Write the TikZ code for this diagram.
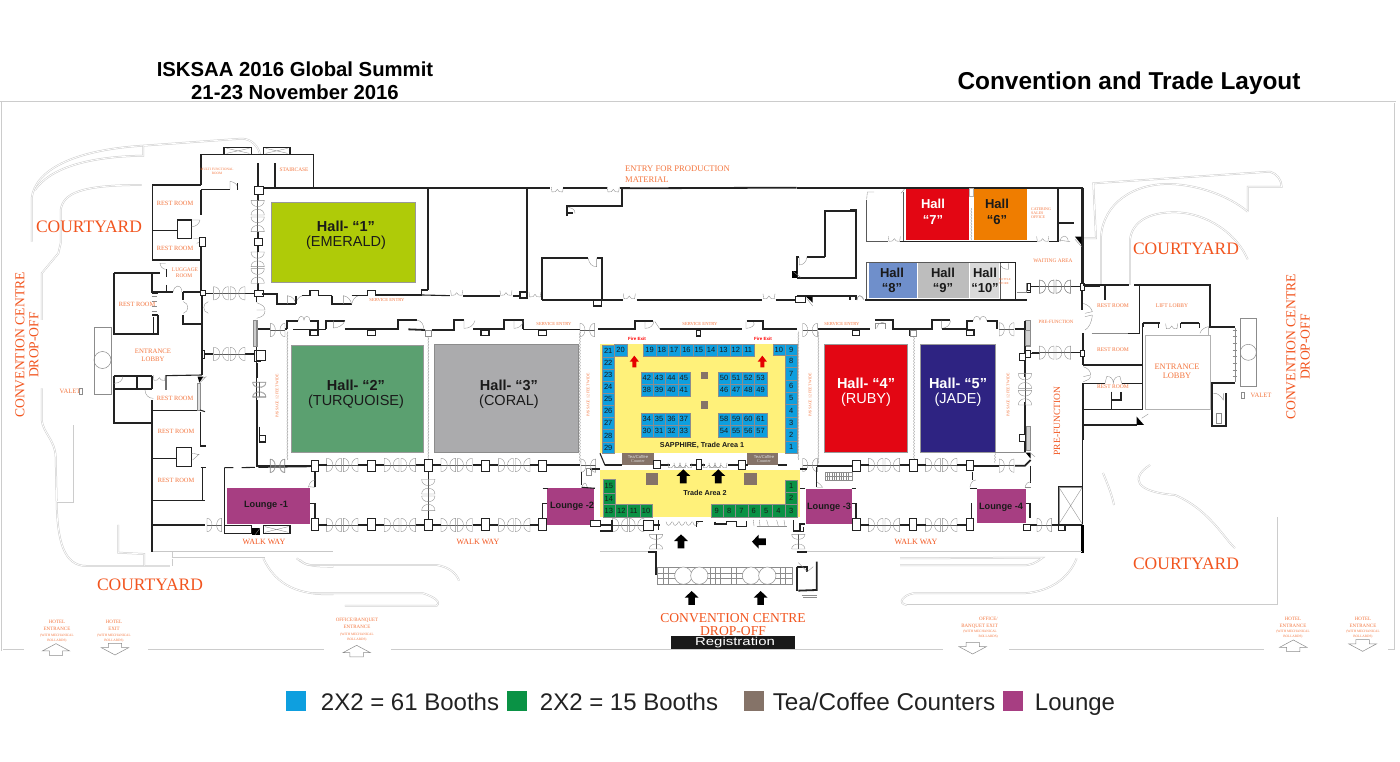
\documentclass[tikz,border=0pt]{standalone}
\usepackage{fontspec}
\setmainfont{Liberation Serif}
\newfontfamily\ar{Liberation Sans}
\usetikzlibrary{decorations.pathmorphing}
\definecolor{orB}{HTML}{F2551F}
\definecolor{orS}{HTML}{F4763F}
\definecolor{emer}{HTML}{AFCB08}
\definecolor{turq}{HTML}{5BA070}
\definecolor{cora}{HTML}{ABABAD}
\definecolor{ruby}{HTML}{E30613}
\definecolor{jade}{HTML}{2E2382}
\definecolor{hsix}{HTML}{EF7D00}
\definecolor{heig}{HTML}{6F8FCB}
\definecolor{hnin}{HTML}{BDBDBD}
\definecolor{hten}{HTML}{D9D9D9}
\definecolor{loun}{HTML}{A73E82}
\definecolor{yell}{HTML}{FFF17A}
\definecolor{bluB}{HTML}{0E9FDF}
\definecolor{greB}{HTML}{0A9245}
\definecolor{brow}{HTML}{857368}
\definecolor{ink}{HTML}{222222}
\definecolor{dkT}{HTML}{1A1A1A}
\tikzset{
  zs/.style={scale=.3333},
  wall/.style={draw=ink,line width=1.1pt,line join=miter},
  twall/.style={draw=ink,line width=1.8pt},
  bwall/.style={draw=black,line width=3pt},
  grayw/.style={draw=black!22,line width=1.4pt},
  thinw/.style={draw=black!65,line width=.5pt},
  door/.style={draw=black!45,line width=.35pt},
  road/.style={draw=black!20,line width=.5pt,double=white,double distance=.8pt},
  pillar/.style={draw=ink,line width=.9pt,fill=white},
  zz/.style={draw=black!40,line width=.4pt,decorate,decoration={snake,amplitude=.5pt,segment length=3pt}},
  lab/.style={inner sep=0pt,align=center,text=orS},
  booth/.style={fill=bluB,draw=black!45,line width=.25pt},
  gbooth/.style={fill=greB,draw=black!45,line width=.25pt},
  num/.style={inner sep=0pt,text=dkT,font=\ar\fontsize{7.5}{7.5}\selectfont},
  pics/dbl/.style={code={\begin{scope}[zs]
    \draw[thinw] (-47,0)--(47,0);
    \foreach \s in {-1,1}{
      \draw[door] (\s*47,-20)--(\s*47,20) .. controls (\s*22,20) and (\s*22,-20) .. (\s*47,-20);
      \draw[door] (\s*3,-20)--(\s*3,20) .. controls (\s*26,20) and (\s*26,-20) .. (\s*3,-20);
    }\end{scope}}},
  pics/bow/.style={code={\begin{scope}[zs]
    \draw[thinw] (-22,0)--(22,0);
    \foreach \s in {-1,1}{
      \draw[door] (\s*22,-20)--(\s*22,20) .. controls (\s*2,20) and (\s*2,-20) .. (\s*22,-20);
    }\end{scope}}},
  pics/uu/.style={code={\begin{scope}[zs]
    \draw[door] (-18,-9)--(-16,6) .. controls (-8,8) and (-2,4) .. (0,-2) .. controls (2,4) and (8,8) .. (16,6) -- (18,-9);
    \end{scope}}},
  pics/qd/.style={code={\begin{scope}[zs]
    \draw[door] (0,0)--(0,-24) .. controls (16,-22) and (24,-12) .. (24,0);
    \end{scope}}},
  pics/harrow/.style={code={\begin{scope}[zs]
    \draw[door,line width=.5pt,fill=white] (0,-17)--(41,5)--(20,5)--(20,18)--(-20,18)--(-20,5)--(-41,5)--cycle;
    \end{scope}}},
  pics/barrow/.style={code={\begin{scope}[zs]
    \fill[black] (0,-22)--(21,-2)--(10,-2)--(10,20)--(-10,20)--(-10,-2)--(-21,-2)--cycle;
    \end{scope}}},
  pics/rarrow/.style={code={\begin{scope}[zs]
    \fill[red!90!black] (0,-18)--(14,0)--(6,0)--(6,17)--(-6,17)--(-6,0)--(-14,0)--cycle;
    \end{scope}}},
}
\newcounter{lb}
\newcommand\Lb[5][]{\stepcounter{lb}\node[lab,#1,font=\fontsize{#4}{#4}\selectfont] (lb\arabic{lb}) at (#2,#3) {#5};}
\newcommand\Hl[5]{\Lb[text=#4]{#1}{#2}{#3}{\ar\bfseries #5}}
\newcommand\Hr[5]{\Lb[text=#4]{#1}{#2}{#3}{\ar #5}}
\newcommand\Dbl[2]{\pic at (#1,#2) {dbl};}
\newcommand\VDbl[2]{\pic[rotate=90] at (#1,#2) {dbl};}
\newcommand\Bow[2]{\pic at (#1,#2) {bow};}
\newcommand\VBow[2]{\pic[rotate=90] at (#1,#2) {bow};}
\newcommand\UU[2]{\pic at (#1,#2) {uu};}
\newcommand\Pil[4]{\draw[pillar] (#1,#2) rectangle (#3,#4);}
\newcommand\Bo[6]{\draw[#1] (#2,#3) rectangle ++(#4,#5) node[midway,num] (b#1#6) {#6};}
\begin{document}
\begin{tikzpicture}[x=1pt,y=-1pt]
\useasboundingbox (0,0) rectangle (1400,762);
\fill[white] (0,0) rectangle (1400,762);

% ---- frame
\draw[road] (0,102)--(1395,102)--(1395,650)--(1388,650);
\draw[road] (2,102)--(2,650)--(24,650);
\draw[road] (148,650)--(324,650);
\draw[road] (391,650)--(943,650);
\draw[road] (1009,650)--(1264,650);

% ---- hall fills
\begin{scope}[shift={(230,150)},scale=.3333]
 \draw[fill=emer,draw=black!40,line width=.8pt] (124,158) rectangle (557,398);
\end{scope}
\begin{scope}[shift={(230,300)},scale=.3333]
 \draw[fill=turq,draw=black!40,line width=.6pt] (185,135) rectangle (580,458);
 \draw[fill=cora,draw=black!45,line width=.6pt] (613,133) rectangle (1045,458);
 \fill[loun] (950,565) rectangle (1093,674);
 \fill[loun] (-10,565) rectangle (240,672);
\end{scope}
\begin{scope}[shift={(790,300)},scale=.3333]
 \draw[fill=ruby,draw=black!40,line width=.6pt] (103,134) rectangle (353,456);
 \draw[fill=jade,draw=black!40,line width=.6pt] (390,134) rectangle (616,456);
 \fill[loun] (47,567) rectangle (185,672);
 \fill[loun] (562,567) rectangle (707,670);
\end{scope}
\begin{scope}[shift={(850,150)},scale=.3333]
 \fill[ruby] (168,115) rectangle (358,270);
 \fill[hsix] (372,115) rectangle (530,270);
 \draw[thinw,line width=.8pt] (50,338) rectangle (450,450);
 \fill[heig] (57,340) rectangle (200,445);
 \fill[hnin] (203,340) rectangle (358,445);
 \fill[hten] (360,340) rectangle (448,445);
\end{scope}

% ---- roads (left)
\begin{scope}[shift={(0,130)},scale=.3333]
 \draw[road] (95,335)--(95,205) .. controls (105,120) and (220,60) .. (430,47) -- (725,26) .. controls (755,26) and (775,50) .. (780,72);
 \draw[road] (105,180) .. controls (150,115) and (260,80) .. (430,77)--(430,47);
 \draw[road] (125,570)--(125,430)--(175,370)--(182,340)--(182,240) .. controls (190,190) and (240,165) .. (425,165);
\end{scope}
\begin{scope}[shift={(0,360)},scale=.3333]
 \draw[road] (125,85)--(125,180) .. controls (130,220) and (165,240) .. (167,290) -- (170,425) .. controls (172,540) and (190,618) .. (260,618) -- (510,618);
 \draw[road] (170,425)--(218,425)--(218,195);
 \draw[road] (355,495)--(355,578)--(433,582)--(433,618);
 \draw[road] (515,575)--(515,618);
 \draw[road] (515,595)--(795,595);
 \draw[road] (790,595) .. controls (830,680) and (900,705) .. (1000,703);
 \draw[road] (890,595) .. controls (915,615) and (930,620) .. (1000,620);
 \draw[grayw] (455,575)--(1000,575);
\end{scope}
\begin{scope}[shift={(250,560)},scale=.3333]
 \draw[road] (190,100)--(520,100) .. controls (550,110) and (575,125) .. (560,137) -- (285,137);
 \draw[road] (150,0) .. controls (165,15) and (175,15) .. (190,15) -- (560,15) .. controls (595,20) and (620,40) .. (627,62);
\end{scope}
% ---- roads (right)
\begin{scope}[shift={(900,540)},scale=.3333]
 \draw[road] (0,55)--(428,53) .. controls (405,70) and (395,75) .. (370,76) -- (0,76);
 \draw[road] (530,55) .. controls (505,120) and (440,160) .. (360,160) -- (40,160) .. controls (10,165) and (-10,190) .. (20,195);
 \draw[road] (20,195)--(1135,195)--(1135,-70);
\end{scope}
\begin{scope}[shift={(1020,170)},scale=.3333]
 \draw[road] (190,205)--(228,205)--(220,40)--(750,5) .. controls (770,10) and (785,30) .. (785,50)--(683,50)--(683,125);
 \draw[road] (243,345)--(243,200) .. controls (250,100) and (340,40) .. (450,42) .. controls (540,45) and (630,80) .. (683,125);
 \draw[road] (330,345)--(330,210) .. controls (335,160) and (380,125) .. (470,127) .. controls (560,130) and (650,190) .. (683,268);
\end{scope}
\draw[road] (1150,465) .. controls (1130,478) and (1135,492) .. (1175,495) .. controls (1210,510) and (1225,540) .. (1235,548);
\draw[road] (1103,473) .. controls (1108,485) and (1112,495) .. (1114,505);

% ---- left wing walls
\begin{scope}[shift={(0,130)},scale=.3333]
 \draw[wall] (603,165)--(603,73)--(940,73)--(940,172);
 \draw[wall,fill=white] (672,52) rectangle (755,73);
 \draw[wall,fill=white] (790,52) rectangle (870,73);
 \draw[door] (680,55)--(748,70) (680,70)--(748,55) (797,55)--(863,70) (797,70)--(863,55);
 \draw[wall] (603,178)--(690,178);
 \pic at (690,178) {qd};
 \draw[wall] (712,160)--(712,180);
 \draw[twall] (773,100)--(773,170);
 \draw[twall] (825,100)--(825,172);
 \draw[twall] (790,190)--(790,175)--(1000,175);
 \draw[twall] (773,192)--(773,212) (773,305)--(773,325) (773,347)--(773,365) (773,460)--(773,480);
 \pic[rotate=90] at (773,258) {dbl};
 \pic[rotate=90] at (773,413) {dbl};
 \Pil{762}{170}{790}{192}
 \Pil{762}{325}{787}{347}
 \Pil{762}{480}{790}{498}
 \draw[wall] (603,165)--(457,165)--(457,390)--(603,390)--(603,340);
 \draw[wall] (603,180)--(603,255);
 \draw[wall] (457,302)--(533,302);
 \draw[wall] (533,270) rectangle (575,325);
 \draw[door] (575,270)--(600,270) .. controls (598,280) and (590,290) .. (575,290);
 \draw[door] (580,325)--(605,325) .. controls (603,335) and (598,340) .. (590,340);
 \Pil{598}{323}{615}{348}
 \draw[wall] (603,390)--(603,482);
 \draw[wall] (500,418)--(500,440) (500,465)--(500,485);
 \draw[twall] (343,428)--(480,428);
 \draw[door] (480,400)--(497,400) (480,400) .. controls (480,410) and (490,418) .. (497,418);
 \draw[twall] (343,428)--(343,612)--(475,612)--(475,555);
 \draw[twall] (457,428)--(457,485)--(520,485);
 \draw[door] (520,485) .. controls (522,465) and (545,460) .. (545,485);
 \draw[twall] (548,485)--(605,485);
 \draw[twall] (550,485)--(550,510) (550,555)--(550,582)--(605,582);
 \draw[twall] (606,480)--(606,720);
 \draw[wall] (457,490)--(475,490) (457,555)--(475,555) (460,560)--(460,610);
 \draw[door] (455,500)--(472,500) (455,515)--(472,515) (455,530)--(472,530) (455,545)--(472,545);
 \draw[door] (550,515) .. controls (568,520) and (568,545) .. (550,550);
 \draw[door] (625,515) .. controls (607,520) and (607,545) .. (625,550);
 \Pil{600}{480}{615}{495}
 \draw[wall] (615,490)--(640,490) (735,490)--(762,490);
 \Dbl{688}{490}
 \draw[wall] (606,672)--(640,672) (735,672)--(762,672);
 \Dbl{688}{672}
 \Pil{606}{662}{614}{684}
 \draw[wall] (770,498)--(770,515);
 \draw[door] (770,518) .. controls (788,525) and (795,530) .. (795,540)--(770,540);
 \draw[door] (770,565) .. controls (788,560) and (795,555) .. (795,543);
 \draw[door,fill=black!25] (760,572) rectangle (772,650);
 \draw[wall] (770,650)--(770,665);
 \Pil{762}{662}{780}{695}
 \Pil{775}{670}{795}{690}
\end{scope}
\begin{scope}[shift={(0,360)},scale=.3333]
 \draw[twall] (606,0)--(606,45);
 \draw[wall] (606,45)--(498,47)--(498,90);
 \fill[black] (593,50)--(610,50)--(598,68)--cycle;
 \draw[door] (605,55)--(620,50)(598,70)--(618,50);
 \draw[twall] (342,47)--(455,47);
 \draw[twall] (342,47)--(342,190)--(455,190);
 \draw[twall] (342,88)--(455,88);
 \draw[twall] (410,47)--(410,88);
 \draw[twall] (455,47)--(455,88);
 \draw[twall] (455,120)--(455,575);
 \draw[door] (342,70) .. controls (360,70) and (368,60) .. (368,50);
 \draw[door] (435,90) .. controls (436,105) and (445,115) .. (460,115);
 \pic at (478,55) {uu};
 \draw[wall] (455,152)--(590,152);
 \draw[door,fill=black!12] (592,70) rectangle (602,150);
 \draw[wall] (602,155)--(602,258)--(617,258);
 \draw[wall] (600,150)--(615,155);
 \draw[wall] (455,296)--(530,296);
 \draw[wall] (530,263) rectangle (575,320);
 \draw[door] (575,280) .. controls (585,280) and (595,285) .. (597,283)--(578,300);
 \draw[wall] (607,322)--(607,420) (602,322)--(617,322);
 \draw[wall] (455,422)--(615,422);
 \draw[wall] (455,495)--(615,495);
 \Bow{643}{495}
 \draw[wall] (673,325)--(673,520);
 \draw[wall] (673,323)--(700,323) (725,323)--(765,322);
 \draw[wall] (673,497)--(755,497)--(755,520)--(673,520);
 \draw[wall] (790,497) rectangle (870,520);
 \draw[door] (795,500)--(865,517)(795,517)--(865,500);
 \fill[black] (757,505)--(780,505)--(780,525)--(757,525)--cycle;
 \draw[door] (765,525)--(780,505);
 \draw[wall] (775,322)--(930,320);
 \draw[wall] (770,-2)--(770,322);
 \Pil{778}{225}{795}{247}
 \pic[rotate=90] at (778,90) {bow};
 \Bow{832}{318}
\end{scope}

% ---- upper corridor
\begin{scope}[shift={(230,150)},scale=.3333]
 \draw[twall] (100,115)--(960,115);
 \UU{982}{120}
 \draw[twall] (1000,115)--(1130,115);
 \UU{1150}{120}
 \draw[twall] (1170,115)--(1200,115);
 \draw[twall] (595,115)--(595,420);
 \draw[twall] (892,115)--(892,430);
 \draw[twall] (85,132)--(85,150) (85,248)--(85,265) (85,288)--(85,305) (85,402)--(85,420);
 \draw[twall] (97,433)--(140,433)--(140,462)--(197,462);
 \draw[door] (172,462)--(172,437) .. controls (190,440) and (195,450) .. (197,462);
 \draw[door] (197,462) .. controls (200,450) and (205,440) .. (218,437);
 \draw[twall] (197,462)--(197,438);
 \draw[wall] (215,437)--(240,437)--(240,422)--(265,422)--(265,437)--(305,437);
 \draw[twall] (305,437)--(305,463)--(365,463);
 \draw[door] (340,462)--(340,437) .. controls (355,440) and (362,450) .. (365,462);
 \draw[door] (365,462) .. controls (368,450) and (375,440) .. (385,437);
 \draw[wall] (365,437)--(412,437)--(412,422)--(437,422)--(437,435)--(575,435)--(575,420)--(595,420);
 \draw[wall] (575,435)--(660,437);
 \UU{680}{430}
 \draw[twall] (700,438)--(810,438);
 \UU{828}{430}
 \draw[twall] (848,438)--(870,438)--(870,425)--(892,425)--(892,445)--(870,445)--(870,438);
 \UU{915}{435}
 \draw[twall] (937,450)--(1090,450);
 \draw[twall] (937,450)--(937,325)--(1075,325);
 \draw[door] (1075,325) .. controls (1077,340) and (1085,350) .. (1100,350)--(1100,325);
 \draw[twall] (1100,325)--(1115,325)--(1115,450);
 \draw[wall] (1090,450) rectangle (1115,468);
 \draw[twall] (1115,450)--(1175,450);
 \draw[twall] (1175,115)--(1175,168)--(1010,168)--(1010,198);
 \draw[twall] (1010,190)--(1030,190);
 \draw[door] (1015,172) .. controls (1030,175) and (1035,180) .. (1035,190);
\end{scope}
\begin{scope}[shift={(510,150)},scale=.3333]
 \draw[twall] (335,115)--(860,113);
 \draw[twall] (860,113)--(1110,113);
 \UU{777}{440}
 \UU{358}{440}
 \draw[twall] (277,450)--(338,450);
 \draw[twall] (380,450)--(755,450);
 \draw[twall] (797,450)--(858,450);
 \draw[twall] (860,438)--(1038,438)--(1038,450);
 \Pil{857}{440}{885}{458}
 \fill[black] (888,440)--(908,440)--(908,458)--cycle;
 \draw[door] (890,445)--(908,468);
 \draw[twall] (945,322)--(945,183)--(1038,183)--(1038,383)--(860,383);
 \draw[twall] (890,322)--(945,322);
 \draw[twall] (860,383)--(860,322)--(868,322);
 \draw[door] (868,322)--(868,345) .. controls (880,345) and (890,335) .. (890,322);
 \fill[black] (845,362)--(860,362)--(860,384)--(845,384)--cycle;
 \draw[door] (850,365)--(872,382);
 \draw[twall] (1065,450)--(1110,450);
 \draw[door] (1040,450) .. controls (1042,435) and (1055,430) .. (1062,450);
\end{scope}
\begin{scope}[shift={(850,150)},scale=.3333]
 \draw[thinw,line width=.8pt] (50,150)--(50,275)--(115,275);
 \draw[thinw,line width=1pt] (160,125)--(160,275);
 \draw[door] (50,148)--(52,126)--(72,126);
 \draw[door] (153,130)--(165,115);
 \UU{133}{268}
 \draw[wall,line width=.9pt] (150,275)--(560,275);
 \UU{578}{268}
 \draw[wall,line width=.9pt] (596,275)--(625,275);
 \draw[twall] (0,113)--(695,113)--(695,480);
 \draw[twall] (625,113)--(625,275);
 \draw[twall] (625,218)--(672,218);
 \draw[door] (630,275) .. controls (632,255) and (652,250) .. (655,275);
 \draw[door] (625,270)--(660,275);
 \fill[black] (675,260)--(695,260)--(695,285)--cycle;
 \draw[door] (675,268)--(695,290);
 \draw[draw=black!30,line width=.8pt,fill=white] (358,115) rectangle (370,140);
 \draw[zz] (364,175)--(364,270);
 \draw[twall] (50,450)--(530,450);
 \draw[wall] (450,338)--(497,338)--(497,450);
 \draw[door] (450,340) .. controls (452,355) and (465,358) .. (475,358)--(475,340);
 \Pil{530}{400}{542}{428}
 \draw[wall] (542,410)--(570,410) (660,410)--(690,410) (702,408)--(750,408);
 \Dbl{615}{410}
 \Pil{690}{400}{702}{420}
 \draw[door] (500,428)--(528,428)--(528,400);
 \draw[twall] (0,180)--(18,180)--(18,383)--(0,383);
 \draw[twall] (18,438)--(0,438)--(0,450);
 \draw[door] (22,450) .. controls (22,438) and (30,430) .. (40,448);
\end{scope}

% ---- main halls row
\begin{scope}[shift={(230,300)},scale=.3333]
 \draw[twall] (85,88)--(120,88) (165,88)--(170,88);
 \draw[wall] (77,60)--(77,140) ;
 \draw[door,fill=black!20] (70,62) rectangle (80,138);
 \Bow{143}{90}
 \draw[twall] (170,88)--(170,62)--(205,62) (240,62)--(265,62)--(265,88);
 \draw[door] (205,62) .. controls (205,45) and (222,45) .. (222,60) .. controls (222,45) and (240,45) .. (240,62);
 \draw[wall] (190,88)--(288,88);
 \draw[twall] (288,88)--(288,62)--(345,62);
 \draw[door] (310,62)--(310,84) .. controls (325,84) and (340,75) .. (345,62);
 \draw[twall] (345,88)--(505,88)--(505,60)--(560,60);
 \draw[twall] (535,88)--(585,90);
 \draw[door] (560,60) .. controls (575,62) and (582,75) .. (582,90);
 \draw[twall] (605,90)--(672,90)--(672,60)--(702,60);
 \draw[door] (702,60)--(702,85) .. controls (718,85) and (730,78) .. (735,62);
 \draw[twall] (730,88)--(822,88)--(822,60)--(880,60)--(880,88);
 \draw[door] (852,62)--(852,85) .. controls (865,85) and (878,78) .. (880,62);
 \draw[wall] (880,88)--(1050,88);
 \foreach \a in {240,412,753,925} {\draw[wall,fill=white] (\a,90) rectangle ++(24,16);}
 \Bow{1072}{90}
 \draw[zz] (172,95)--(172,480);
 \draw[zz] (595,95)--(595,480);
 \draw[zz] (1050,95)--(1050,490);
 \draw[door,fill=white] (585,90) rectangle (605,110);
 \draw[twall] (80,300)--(80,497)--(120,497);
 \draw[wall] (88,380)--(88,405);
 \Pil{88}{405}{105}{425}
 \Pil{78}{150}{105}{180}
 \pic[rotate=90] at (88,268) {bow};
 \draw[twall] (80,190)--(80,235);
 \Bow{143}{497}
 \draw[twall] (165,497)--(243,497);
 \Pil{243}{480}{265}{513}
 \foreach \c in {337,510,680,853} {\Dbl{\c}{495}\Dbl{\c}{675}}
 \foreach \a in {385,557,728,900} {\draw[twall] (\a,495)--++(28,0); \draw[wall] (\a,675)--++(28,0);}
 \foreach \a in {265,436,607,778} {\draw[twall] (\a,495)--++(26,0); \draw[wall] (\a,675)--++(26,0);}
 \foreach \a in {412,753} {\Pil{\a}{480}{\a+24}{514} \Pil{\a}{655}{\a+24}{692}}
 \Pil{583}{478}{607}{515}
 \Pil{583}{658}{607}{692}
 \Pil{925}{480}{950}{515}
 \draw[twall] (950,495)--(1050,495);
 \Bow{1075}{497}
 \draw[twall] (255,513)--(255,560);
 \draw[door] (235,562) .. controls (238,545) and (250,540) .. (255,540);
 \draw[door] (235,560)--(255,562);
 \draw[wall] (240,610)--(255,610)--(255,655);
 \Pil{243}{655}{265}{692}
 \draw[wall] (595,515)--(595,540) (595,632)--(595,658);
 \VDbl{595}{585}
 \draw[wall] (938,565)--(955,565);
 \draw[wall] (938,610)--(938,655) (938,610)--(950,610);
 \Pil{925}{655}{950}{692}
 \draw[wall] (1055,515)--(1055,555);
 \draw[door] (1055,562) .. controls (1062,545) and (1068,545) .. (1072,562);
 \draw[wall] (1055,562)--(1095,565);
\end{scope}
\begin{scope}[shift={(790,300)},scale=.3333]
 \draw[twall] (85,88)--(240,88);
 \draw[door] (255,88)--(255,70)--(285,70)--(285,88);
 \draw[door] (260,85) .. controls (262,72) and (270,68) .. (283,66);
 \draw[twall] (255,60)--(310,60)--(310,88)--(425,88)--(425,60)--(480,60);
 \draw[door] (455,62)--(455,85) .. controls (470,85) and (480,75) .. (482,62);
 \draw[twall] (455,88)--(530,88);
 \draw[twall] (530,88)--(530,62)--(550,62) (590,62)--(620,62)--(620,88);
 \draw[door] (550,62) .. controls (550,45) and (570,45) .. (570,60) .. controls (570,45) and (590,45) .. (590,62);
 \Bow{650}{88}
 \draw[twall] (675,88)--(705,88);
 \foreach \a in {187,358,530} {\draw[wall,fill=white] (\a,90) rectangle ++(22,16);}
 \Bow{60}{90}
 \Bow{60}{495}
 \draw[zz] (25,95)--(25,480);
 \draw[zz] (85,95)--(85,490);
 \draw[zz] (372,95)--(372,490);
 \draw[zz] (615,460)--(615,490);
 \draw[door,fill=white] (360,90) rectangle (380,110);
 \draw[door,fill=black!18] (707,62) rectangle (722,138);
 \draw[twall] (705,62)--(705,230) (705,305)--(705,460);
 \Pil{688}{160}{705}{182}
 \Pil{705}{152}{722}{172}
 \draw[wall] (722,160)--(750,160);
 \VDbl{705}{268}
 \Pil{688}{403}{705}{425}
 \draw[door,fill=black!18] (710,380) rectangle (722,452);
 \fill[black] (707,458)--(722,458)--(722,476)--cycle;
 \draw[door] (720,458)--(735,470);
 \draw[door] (615,458)--(707,458);
 \draw[twall] (80,497)--(187,497);
 \Pil{187}{480}{210}{514}
 \draw[twall] (550,497)--(627,497);
 \Bow{650}{497}
 \draw[twall] (675,497)--(705,497)--(722,480);
 \draw[wall] (722,497)--(722,550);
 \draw[door] (705,562) .. controls (708,550) and (715,545) .. (722,545);
 \draw[door] (705,562)--(722,562);
 \foreach \c in {282,454} {\Dbl{\c}{495}\Dbl{\c}{675}}
 \foreach \a in {210,382} {\draw[twall] (\a,495)--++(26,0); \draw[wall] (\a,675)--++(26,0);}
 \foreach \a in {330,502} {\draw[twall] (\a,495)--++(28,0); \draw[wall] (\a,675)--++(28,0);}
 \Pil{358}{478}{382}{515}
 \Pil{358}{655}{380}{692}
 \Pil{528}{480}{550}{510}
 \Pil{528}{655}{550}{692}
 \draw[door] (105,517) rectangle (187,540);
 \foreach \a in {112,119,...,180} {\draw[door] (\a,517)--(\a,540);}
 \draw[door] (105,528)--(187,528);
 \draw[wall] (80,500)--(80,560);
 \draw[door] (80,545) .. controls (85,550) and (95,555) .. (98,562) -- (80,562);
 \draw[wall] (185,565)--(198,565);
 \draw[wall] (185,610)--(198,610)--(198,655);
 \draw[wall] (10,692)--(30,692)--(30,672)--(45,672);
 \draw[wall] (45,565)--(30,565);
 \Pil{187}{655}{210}{692}
 \draw[wall] (540,565)--(562,565);
 \draw[wall] (545,610)--(545,655);
 \draw[door] (540,562) .. controls (541,550) and (548,540) .. (558,540);
 \draw[wall] (548,515)--(548,540);
 \draw[wall] (707,610)--(720,610)--(720,655);
 \Pil{700}{672}{722}{692}
 \draw[wall] (722,675)--(740,675) (787,675)--(805,675);
 \Bow{763}{675}
 \draw[door,line width=.5pt] (807,562) rectangle (877,672);
 \draw[door] (807,562)--(877,672) (807,672)--(877,562);
 \draw[wall] (805,560)--(877,560) (805,560)--(805,675);
 \draw[twall] (805,675)--(877,675);
 \draw[wall] (805,675) rectangle (825,692);
 \draw[wall] (878,250)--(878,672);
 \draw[bwall] (877,675)--(877,758);
 \draw[twall] (880,375)--(960,375);
 \draw[wall] (880,328)--(960,328);
 \draw[grayw] (50,755)--(877,755);
\end{scope}

% ---- right wing
\begin{scope}[shift={(1020,170)},scale=.3333]
 \draw[twall] (190,53)--(190,345) (190,490)--(190,585);
 \Dbl{105}{350}
 \Dbl{105}{548}
 \draw[wall] (35,350)--(58,350) (152,350)--(180,350) (35,548)--(58,548) (152,548)--(180,548);
 \Pil{22}{340}{32}{360}
 \Pil{180}{340}{192}{360}
 \Pil{180}{540}{192}{558}
 \draw[door,fill=black!18] (16,480) rectangle (30,525);
 \draw[twall] (190,345)--(328,345);
 \draw[twall] (342,345)--(570,345)--(570,470)--(645,470);
 \draw[wall] (255,345)--(255,390);
 \draw[wall] (358,345)--(358,490)--(325,490);
 \draw[door] (215,490)--(325,490);
 \draw[door] (190,400) .. controls (205,405) and (215,415) .. (217,425)--(195,430) (217,435)--(195,440) (217,435) .. controls (215,460) and (205,475) .. (195,480);
 \draw[twall] (368,460)--(420,460);
 \draw[twall] (368,470)--(368,460);
 \draw[twall] (482,460)--(538,460);
 \draw[wall] (415,460)--(415,475) (482,460)--(482,475) (538,460)--(538,475);
 \UU{455}{470}
 \draw[door] (540,490) .. controls (543,478) and (555,472) .. (565,470)--(565,495);
 \draw[wall] (368,470)--(368,720);
 \draw[wall] (190,585)--(368,585);
 \draw[wall] (190,640)--(255,640) (305,640)--(368,640);
 \draw[door] (255,640)--(260,620) .. controls (270,618) and (280,625) .. (280,640) .. controls (280,625) and (290,618) .. (300,620)--(305,640);
 \draw[wall] (190,718)--(368,718);
 \draw[wall] (275,665)--(275,718);
 \draw[wall] (275,690)--(303,690)--(303,665);
 \draw[twall] (190,640)--(190,810);
 \draw[twall] (190,765)--(350,765);
 \fill[black] (350,740)--(372,765)--(350,765)--cycle;
 \draw[door] (365,745)--(385,732);
 \draw[door] (190,590) .. controls (205,595) and (212,605) .. (212,615)--(190,620) (190,635) .. controls (205,630) and (212,625) .. (212,620);
 \draw[twall] (575,770)--(575,640)--(645,640);
 \draw[twall] (575,768)--(618,768)--(618,670);
 \draw[door] (580,670) .. controls (590,668) and (600,675) .. (610,690) -- (610,670);
 \draw[door] (590,730) rectangle (605,760);
 \draw[draw=black!30,line width=.6pt] (375,497) rectangle (570,718);
 \draw[door,line width=.5pt] (660,445) rectangle (710,650);
 \draw[door,line width=.5pt] (685,547) circle (24);
 \foreach \a in {480,500,520,540,560,580,600,620} {\draw[door] (638,\a)--(652,\a);}
 \draw[door,line width=.8pt] (645,475)--(645,635);
\end{scope}

% ---- left pier
\draw[door,line width=.5pt] (94,327) rectangle (111,394);
\draw[door,line width=.5pt] (102.5,360) circle (8.5);

% ---- Sapphire / Trade area
\begin{scope}[shift={(590,320)},scale=.3333]
 \fill[yell] (30,72) rectangle (622,400);
 \fill[yell] (30,450) rectangle (630,592);
 \foreach \n/\y/\h in {21/75/35,22/110/37,23/147/36,24/183/37,25/220/36,26/256/36,27/292/36,28/328/37,29/365/35}
   {\Bo{booth}{37}{\y}{35}{\h}{\n}}
 \Bo{booth}{73}{72}{37}{35}{20}
 \foreach \n [count=\i from 0] in {19,18,17,16,15,14,13,12,11}
   {\Bo{booth}{160+\i*37}{72}{37}{35}{\n}}
 \Bo{booth}{548}{72}{37}{33}{10}
 \foreach \n/\y/\h in {9/72/33,8/105/37,7/142/38,6/180/37,5/217/36,4/253/37,3/290/35,2/325/37,1/362/36}
   {\Bo{booth}{585}{\y}{37}{\h}{\n}}
 \foreach \n [count=\i from 0] in {42,43,44,45} {\Bo{booth}{152+\i*37}{155}{37}{36}{\n}}
 \foreach \n [count=\i from 0] in {38,39,40,41} {\Bo{booth}{152+\i*37}{191}{37}{36}{\n}}
 \foreach \n [count=\i from 0] in {34,35,36,37} {\Bo{booth}{152+\i*37}{279}{37}{36}{\n}}
 \foreach \n [count=\i from 0] in {30,31,32,33} {\Bo{booth}{152+\i*37}{315}{37}{36}{\n}}
 \foreach \n [count=\i from 0] in {50,51,52,53} {\Bo{booth}{384+\i*36.5}{155}{36.5}{36}{\n}}
 \foreach \n [count=\i from 0] in {46,47,48,49} {\Bo{booth}{384+\i*36.5}{191}{36.5}{36}{\n}}
 \foreach \n [count=\i from 0] in {58,59,60,61} {\Bo{booth}{384+\i*36.5}{279}{36.5}{36}{\n}}
 \foreach \n [count=\i from 0] in {54,55,56,57} {\Bo{booth}{384+\i*36.5}{315}{36.5}{36}{\n}}
 \fill[brow] (332,155) rectangle (355,178);
 \fill[brow] (332,243) rectangle (355,266);
 \fill[brow] (97,400) rectangle (191,436);
 \fill[brow] (470,400) rectangle (565,436);
 \fill[brow] (167,458) rectangle (205,495);
 \fill[brow] (462,458) rectangle (500,495);
 \pic at (133,125) {rarrow};
 \pic at (517,125) {rarrow};
 \Bo{gbooth}{38}{478}{37}{40}{15}
 \Bo{gbooth}{38}{518}{37}{35}{14}
 \foreach \n [count=\i from 0] in {13,12,11,10} {\Bo{gbooth}{38+\i*37.2}{553}{37.2}{37}{\n}}
 \foreach \n [count=\i from 0] in {9,8,7,6,5,4} {\Bo{gbooth}{362+\i*37}{553}{37}{37}{\n}}
 \Bo{gbooth}{585}{553}{37}{37}{3}
 \Bo{gbooth}{585}{480}{37}{37}{1}
 \Bo{gbooth}{585}{517}{37}{36}{2}
 \pic at (280,470) {barrow};
 \pic at (385,470) {barrow};
 % walls round the area
 \draw[twall] (25,28)--(135,28)--(135,2)--(190,2);
 \draw[door] (165,5)--(165,25) .. controls (180,25) and (190,18) .. (192,3);
 \draw[twall] (210,28)--(455,28);
 \draw[door] (468,5)--(468,25) .. controls (480,25) and (500,18) .. (490,3);
 \draw[twall] (470,2)--(520,2)--(520,28)--(620,28);
 \draw[wall,fill=white] (320,30) rectangle (332,48);
 \draw[door] (195,5)--(210,28);
 \draw[twall] (45,436)--(95,436);
 \draw[wall] (30,400)--(45,436);
 \Pil{190}{420}{210}{445}
 \Pil{320}{418}{335}{448}
 \Pil{445}{420}{467}{447}
 \draw[twall] (210,435)--(240,435)(300,435)--(320,435) (335,435)--(345,435)(415,435)--(445,435)(467,435)--(475,435);
 \foreach \a in {252,270,288,357,375,393} {\UU{\a}{437}}
 \draw[twall] (565,436)--(590,436);
 \draw[wall] (0,447)--(30,447);
 \draw[wall] (630,447)--(650,447);
 \Pil{0}{600}{30}{620}
 \draw[door] (-10,445) rectangle (3,465);
\end{scope}
\begin{scope}[shift={(600,520)},scale=.3333]
 \Dbl{85}{15}
 \draw[wall] (0,15)--(40,15) (130,15)--(160,15);
 \draw[twall] (0,32)--(35,32)--(35,0);
 \Pil{130}{0}{160}{32}
 \draw[wall] (160,15)--(180,15);
 \draw[wall] (175,0)--(175,30);
 \foreach \a in {198,218,238,258,278} {\draw[door] (\a,5) .. controls (\a+4,20) and (\a+10,20) .. (\a+18,5);}
 \draw[wall] (290,20)--(290,5)--(310,5) (345,5)--(345,12)--(380,12)--(380,5)--(410,5)--(410,20)--(440,20)--(440,2);
 \draw[door] (460,0)--(462,18) (478,0)--(480,18) (500,0)--(505,18) (530,0)--(535,18) (552,0)--(555,18);
 \draw[door] (470,18)--(560,18);
 \draw[wall] (580,15)--(580,35)--(610,35)--(610,20);
 \draw[wall] (580,0)--(580,15);
 \pic[rotate=90] at (168,65) {bow};
 \pic[rotate=90] at (595,65) {bow};
 \draw[twall] (145,97)--(167,97)--(167,165);
 \draw[twall] (590,97)--(622,97);
 \draw[grayw] (0,95)--(145,95) (622,95)--(780,95);
 \draw[door,line width=.5pt] (172,142) rectangle (578,192);
 \foreach \a in {190,205,330,345,360,395,410,540,555} {\draw[door] (\a,142)--(\a,192);}
 \draw[door] (172,160)--(578,160) (172,175)--(578,175);
 \foreach \a in {250,298,453,502} {\draw[door,fill=white,line width=.5pt] (\a,167) circle (26);}
 \pic at (243,65) {barrow};
 \pic[rotate=90] at (478,65) {barrow};
 \pic at (275,235) {barrow};
 \pic at (482,235) {barrow};
 \draw[twall] (590,140)--(590,212);
 \draw[twall] (590,142)--(622,142)--(622,155);
 \draw[twall] (650,125)--(650,210)--(595,212);
 \draw[door] (595,128)--(622,155)--(640,140);
 \draw[door] (605,225)--(650,225);
 \draw[door] (610,232)--(650,232);
\end{scope}

% ---- bottom arrows
\begin{scope}[shift={(0,360)},scale=.3333]
 \pic at (168,868) {harrow};
 \pic[rotate=180] at (345,868) {harrow};
\end{scope}
\begin{scope}[shift={(250,560)},scale=.3333]
 \pic at (320,273) {harrow};
\end{scope}
\begin{scope}[shift={(900,540)},scale=.3333]
 \pic[rotate=180] at (218,325) {harrow};
 \pic at (1180,317) {harrow};
 \pic[rotate=180] at (1388,317) {harrow};
\end{scope}

% ---- titles
\Hl{295}{69}{20.3}{black}{ISKSAA 2016 Global Summit}
\Hl{295}{92}{20.3}{black}{21-23 November 2016}
\Hl{1129}{83}{24.4}{black}{Convention and Trade Layout}

% ---- hall labels
\Hl{346}{226}{14.5}{dkT}{Hall- “1”}
\Hr{346}{243}{14.5}{dkT}{(EMERALD)}
\Hl{356}{385}{14.5}{dkT}{Hall- “2”}
\Hr{356}{402}{14.5}{dkT}{(TURQUOISE)}
\Hl{509}{385}{14.5}{dkT}{Hall- “3”}
\Hr{509}{402}{14.5}{dkT}{(CORAL)}
\Hl{866}{383}{14.5}{white}{Hall- “4”}
\Hr{866}{400}{14.5}{white}{(RUBY)}
\Hl{958}{383}{14.5}{white}{Hall- “5”}
\Hr{958}{400}{14.5}{white}{(JADE)}
\Hl{933}{204}{13}{white}{Hall}
\Hl{933}{220}{13}{white}{“7”}
\Hl{997}{204}{13}{dkT}{Hall}
\Hl{997}{220}{13}{dkT}{“6”}
\Hl{892}{273}{13}{dkT}{Hall}
\Hl{892}{288}{13}{dkT}{“8”}
\Hl{943}{273}{13}{dkT}{Hall}
\Hl{943}{288}{13}{dkT}{“9”}
\Hl{985}{273}{13}{dkT}{Hall}
\Hl{985}{288}{13}{dkT}{“10”}
\Hl{266}{505}{9.2}{dkT}{Lounge -1}
\Hl{572}{506}{9.2}{dkT}{Lounge -2}
\Hl{829}{507}{9.2}{dkT}{Lounge -3}
\Hl{1001}{507}{9.2}{dkT}{Lounge -4}
\Hl{702}{445}{7.2}{dkT}{SAPPHIRE, Trade Area 1}
\Hl{705}{493}{7.2}{dkT}{Trade Area 2}
\Lb[text=red]{637}{339}{4.5}{\ar\bfseries Fire Exit}
\Lb[text=red]{763}{339}{4.5}{\ar\bfseries Fire Exit}
\Lb[text=white!88!black]{638}{459}{4.2}{\ar Tea/Coffee\\[.7pt]Counter}
\Lb[text=white!88!black]{764}{459}{4.2}{\ar Tea/Coffee\\[.7pt]Counter}

% ---- orange labels, large
\Lb[text=orB]{89}{227}{17.5}{COURTYARD}
\Lb[text=orB]{1186}{249}{17.5}{COURTYARD}
\Lb[text=orB]{150}{585}{17.5}{COURTYARD}
\Lb[text=orB]{1186}{564}{17.5}{COURTYARD}
\Lb[text=orB,rotate=90]{27}{345}{13.6}{CONVENTION CENTRE\\[.5pt]DROP-OFF}
\Lb[text=orB,rotate=90]{1298}{347}{13.6}{CONVENTION CENTRE\\[.5pt]DROP-OFF}
\Lb[text=orB]{733}{618}{13.6}{CONVENTION CENTRE}
\Lb[text=orB]{733}{631}{13.6}{DROP-OFF}
\Lb[text=orB,rotate=90]{1057}{421}{9.5}{PRE-FUNCTION}
\Lb[text=orB]{264}{542}{8}{WALK WAY}
\Lb[text=orB]{478}{542}{8}{WALK WAY}
\Lb[text=orB]{916}{542}{8}{WALK WAY}

% ---- orange labels, small
\Lb{175}{203}{6.4}{REST ROOM}
\Lb{175}{248}{6.4}{REST ROOM}
\Lb{137}{304}{6.4}{REST ROOM}
\Lb{175}{398}{6.4}{REST ROOM}
\Lb{176}{431}{6.4}{REST ROOM}
\Lb{176}{480}{6.4}{REST ROOM}
\Lb{1113}{306}{5.6}{REST ROOM}
\Lb{1113}{350}{5.6}{REST ROOM}
\Lb{1113}{387}{5.6}{REST ROOM}
\Lb{1172}{306}{5.6}{LIFT LOBBY}
\Lb{153}{351}{6.8}{ENTRANCE}
\Lb{153}{359}{6.8}{LOBBY}
\Lb{1177}{367}{8.4}{ENTRANCE}
\Lb{1177}{376}{8.4}{LOBBY}
\Lb{217}{169}{3.4}{MULTI FUNCTIONAL}
\Lb{217}{173}{3.4}{ROOM}
\Lb{294}{170}{5.4}{STAIRCASE}
\Lb{185}{270}{5.4}{LUGGAGE}
\Lb{184}{276}{5.4}{ROOM}
\Lb{70}{391}{6.6}{VALET}
\Lb{1261}{395}{6.6}{VALET}
\Lb{387}{300}{4.6}{SERVICE ENTRY}
\Lb{554}{324}{4.6}{SERVICE ENTRY}
\Lb{700}{324}{4.6}{SERVICE ENTRY}
\Lb{842}{324}{4.6}{SERVICE ENTRY}
\Lb[anchor=west]{625}{169}{8.6}{ENTRY FOR PRODUCTION}
\Lb[anchor=west]{625}{180}{8.6}{MATERIAL}
\Lb[anchor=west]{1031}{209}{4}{CATERING}
\Lb[anchor=west]{1031}{213}{4}{SALES}
\Lb[anchor=west]{1031}{217}{4}{OFFICE}
\Lb{1053}{261}{5.4}{WAITING AREA}
\Lb{1056}{322}{4.8}{PRE-FUNCTION}
\Lb[anchor=west]{999}{280}{3}{BOTTLE}
\Lb[anchor=west]{999}{284}{3}{STORE}
\Lb[rotate=90]{277}{396}{3.9}{PASSAGE 12 FEET WIDE}
\Lb[rotate=90]{588}{395}{3.9}{PASSAGE 12 FEET WIDE}
\Lb[rotate=90]{810}{395}{3.9}{PASSAGE 12 FEET WIDE}
\Lb[rotate=90]{1008}{395}{3.9}{PASSAGE 12 FEET WIDE}
\draw[door,line width=.5pt] (79,388) rectangle (82,394);
\draw[door,line width=.5pt] (1241,392) rectangle (1244,398);

% ---- gate labels
\Lb{57}{622}{5}{HOTEL}
\Lb{57}{628.5}{5}{ENTRANCE}
\Lb{57}{636}{3.4}{(WITH MECHANICAL}
\Lb{57}{641}{3.4}{BOLLARDS)}
\Lb{114}{622}{5}{HOTEL}
\Lb{114}{628.5}{5}{EXIT}
\Lb{114}{636}{3.4}{(WITH MECHANICAL}
\Lb{114}{641}{3.4}{BOLLARDS)}
\Lb{357}{620.5}{5}{OFFICE/BANQUET}
\Lb{357}{627}{5}{ENTRANCE}
\Lb{357}{635}{3.4}{(WITH MECHANICAL}
\Lb{357}{640}{3.4}{BOLLARDS)}
\Lb[anchor=east]{998}{619}{5}{OFFICE/}
\Lb[anchor=east]{998}{626}{5}{BANQUET EXIT}
\Lb[anchor=east]{997}{632}{3.4}{(WITH MECHANICAL}
\Lb[anchor=east]{998}{637}{3.4}{BOLLARDS)}
\Lb{1293}{619}{5}{HOTEL}
\Lb{1293}{625.5}{5}{ENTRANCE}
\Lb{1293}{632}{3.4}{(WITH MECHANICAL}
\Lb{1293}{637}{3.4}{BOLLARDS)}
\Lb{1363}{619}{5}{HOTEL}
\Lb{1363}{625.5}{5}{ENTRANCE}
\Lb{1363}{632}{3.4}{(WITH MECHANICAL}
\Lb{1363}{637}{3.4}{BOLLARDS)}

% ---- registration
\fill[black!90] (671,636) rectangle (795,649);
\node[inner sep=0pt,text=white,xscale=1.3,font=\ar\fontsize{11.5}{11.5}\selectfont] (reg) at (735,642.5) {Registration};

% ---- legend
\fill[bluB] (286,691) rectangle (306,711);
\fill[greB] (507,691) rectangle (527,711);
\fill[brow] (744,691) rectangle (764,711);
\fill[loun] (1003,691) rectangle (1023,711);
\Lb[text=ink,anchor=base]{410}{710}{24}{\ar 2X2 = 61 Booths}
\Lb[text=ink,anchor=base]{629}{710}{24}{\ar 2X2 = 15 Booths}
\Lb[text=ink,anchor=base]{884}{710}{24.3}{\ar Tea/Coffee Counters}
\Lb[text=ink,anchor=base]{1075}{710}{24}{\ar Lounge}
\end{tikzpicture}
\end{document}
